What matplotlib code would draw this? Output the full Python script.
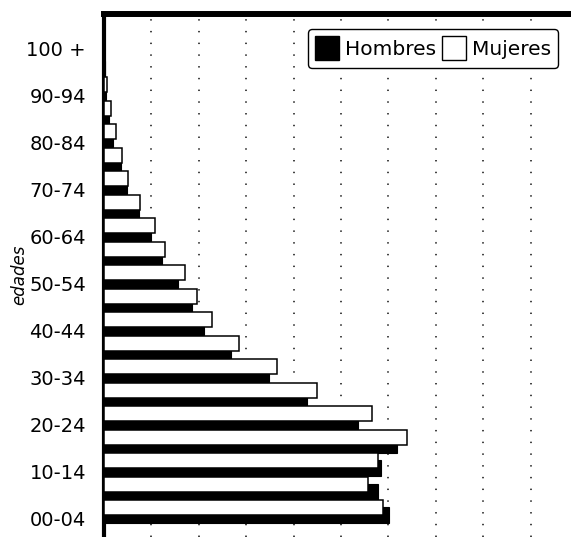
import matplotlib
matplotlib.use("Agg")
import matplotlib.pyplot as plt
from matplotlib.patches import Patch
import numpy as np

# Age groups from bottom (00-04) to top (100 +)
age_groups = ["00-04", "05-09", "10-14", "15-19", "20-24", "25-29", "30-34",
              "35-39", "40-44", "45-49", "50-54", "55-59", "60-64", "65-69",
              "70-74", "75-79", "80-84", "85-89", "90-94", "95-99", "100 +"]

hombres = [6.01, 5.78, 5.84, 6.18, 5.36, 4.28, 3.48, 2.68, 2.11, 1.86, 1.56,
           1.22, 0.99, 0.74, 0.48, 0.35, 0.19, 0.11, 0.04, 0.02, 0.01]
mujeres = [5.89, 5.57, 5.78, 6.39, 5.65, 4.49, 3.65, 2.85, 2.28, 1.96, 1.71,
           1.29, 1.08, 0.77, 0.51, 0.39, 0.25, 0.14, 0.06, 0.02, 0.01]

labels_shown = age_groups[::2]

W, H = 571, 537
fig = plt.figure(figsize=(W / 100, H / 100), dpi=100)
ax = fig.add_axes([104 / W, 0.0, 474 / W, 1 - 14 / H])

y = np.arange(len(age_groups))
ax.barh(y + 0.15, hombres, height=0.68, color="black", edgecolor="black",
        linewidth=0.8, zorder=3, label="Hombres")
ax.barh(y + 0.47, mujeres, height=0.64, color="white", edgecolor="black",
        linewidth=1.1, zorder=4, label="Mujeres")

ax.set_xlim(0, 10)
ax.set_ylim(-0.766, 21.489)

ax.set_xticks(np.arange(0, 11))
ax.tick_params(axis="x", length=0, labelbottom=False)
ax.set_yticks(y[::2])
ax.set_yticklabels(labels_shown, fontsize=14, family="DejaVu Sans")
ax.tick_params(axis="y", length=0, pad=13)

ax.grid(axis="x", linestyle=(0, (0.8, 5.7)), linewidth=1.3, color="#333333")
ax.grid(axis="y", visible=False)
ax.set_axisbelow(True)

ax.spines["right"].set_visible(False)
ax.spines["bottom"].set_visible(False)
ax.spines["top"].set_linewidth(4.3)
ax.spines["left"].set_linewidth(3)

fig.text(19 / W, 1 - 275 / H, "edades", rotation=90, ha="center", va="center",
         fontsize=12, style="italic", family="DejaVu Sans")

handles = [Patch(facecolor="black", edgecolor="black", label="Hombres"),
           Patch(facecolor="white", edgecolor="black", linewidth=1.0, label="Mujeres")]
leg = fig.legend(handles=handles, loc="upper left",
                 bbox_to_anchor=(308 / W, 1 - 29 / H), ncol=2, fontsize=14.5,
                 frameon=True, fancybox=True, edgecolor="black",
                 handlelength=1.19, handleheight=1.49, handletextpad=0.30,
                 columnspacing=0.30, borderpad=0.35, borderaxespad=0)
leg.get_frame().set_linewidth(1.0)
leg.get_frame().set_alpha(1.0)

fig.savefig("out.png", dpi=100)
